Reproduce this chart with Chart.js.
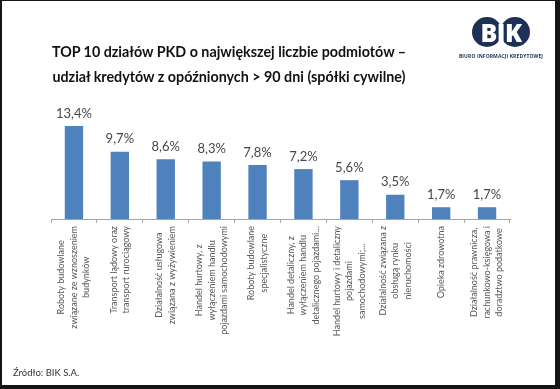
<!DOCTYPE html>
<html>
<head>
<meta charset="utf-8">
<script src="https://cdn.jsdelivr.net/npm/chart.js@4/dist/chart.umd.min.js"></script>
<style>
  body { margin: 0; background: #fff; }
  #wrap { position: relative; width: 560px; height: 389px; overflow: hidden; background: #fff; }
  #frame { position: absolute; left: 0; top: 0; width: 560px; height: 389px; box-sizing: border-box;
    border-style: solid; border-color: #151515; border-width: 1px 5px 4px 2px; pointer-events: none; }
  #title { position: absolute; left: 29px; width: 400px; top: 39px; text-align: center;
    font-family: Lato, sans-serif; font-weight: bold; font-size: 14.3px; line-height: 25px; color: #111; }
  #source { position: absolute; left: 13px; top: 367px; font-family: Lato, sans-serif; font-size: 9.5px; color: #333; }
  .dot { position: absolute; top: 17px; width: 30px; height: 30px; border-radius: 50%; background: #1d3157; }
  #bik { position: absolute; left: 472px; width: 58px; top: 17px; line-height: 30px; text-align: center;
    font-family: "Open Sans", sans-serif; font-weight: 800; font-size: 25px; color: #fff; letter-spacing: -0.5px; }
  #biuro { position: absolute; left: 453px; width: 96px; top: 53px; text-align: center;
    font-family: "Open Sans", sans-serif; font-weight: bold; font-size: 5px; color: #1d3157; white-space: nowrap; letter-spacing: 0.1px; }
  canvas { position: absolute; left: 0; top: 0; }
</style>
</head>
<body>
<div id="wrap">
  <canvas id="chart" width="560" height="389"></canvas>
  <div id="title">TOP 10 działów PKD o największej liczbie podmiotów –<br>udział kredytów z opóźnionych &gt; 90 dni (spółki cywilne)</div>
  <div class="dot" style="left:472px"></div>
  <div class="dot" style="left:500px"></div>
  <div id="bik">BIK</div>
  <div id="biuro">BIURO INFORMACJI KREDYTOWEJ</div>
  <div id="source">Źródło: BIK S.A.</div>
  <div id="frame"></div>
</div>
<script>
var categories = [
  ["Roboty budowlane", "związane ze wznoszeniem", "budynków"],
  ["Transport lądowy oraz", "transport rurociągowy"],
  ["Działalność usługowa", "związana z wyżywieniem"],
  ["Handel hurtowy, z", "wyłączeniem handlu", "pojazdami samochodowymi"],
  ["Roboty budowlane", "specjalistyczne"],
  ["Handel detaliczny, z", "wyłączeniem handlu", "detalicznego pojazdami…"],
  ["Handel hurtowy i detaliczny", "pojazdami", "samochodowymi;…"],
  ["Działalność związana z", "obsługą rynku", "nieruchomości"],
  ["Opieka zdrowotna"],
  ["Działalność prawnicza,", "rachunkowo-księgowa i", "doradztwo podatkowe"]
];
var shares = [13.4, 9.7, 8.6, 8.3, 7.8, 7.2, 5.6, 3.5, 1.7, 1.7];

var valueLabels = {
  id: 'valueLabels',
  afterDatasetsDraw: function(chart){
    var ctx = chart.ctx;
    var meta = chart.getDatasetMeta(0);
    ctx.save();
    ctx.font = '13px Lato, sans-serif';
    ctx.fillStyle = '#474747';
    ctx.textAlign = 'center';
    ctx.textBaseline = 'bottom';
    meta.data.forEach(function(bar, i){
      var txt = shares[i].toFixed(1).replace('.', ',') + '%';
      ctx.fillText(txt, bar.x, bar.y - 6);
    });
    ctx.restore();
  }
};

var categoryLabels = {
  id: 'categoryLabels',
  afterDraw: function(chart){
    var ctx = chart.ctx;
    var xs = chart.scales.x;
    var top = chart.chartArea.bottom + 7;
    var lineH = 12.5;
    ctx.save();
    ctx.font = '9px Lato, sans-serif';
    ctx.fillStyle = '#595959';
    ctx.textAlign = 'center';
    ctx.textBaseline = 'middle';
    categories.forEach(function(lines, i){
      var maxW = 0;
      lines.forEach(function(l){ maxW = Math.max(maxW, ctx.measureText(l).width); });
      var x = xs.getPixelForValue(i);
      ctx.save();
      ctx.translate(x, top + maxW / 2);
      ctx.rotate(-Math.PI / 2);
      lines.forEach(function(l, j){
        ctx.fillText(l, 0, (j - (lines.length - 1) / 2) * lineH);
      });
      ctx.restore();
    });
    ctx.restore();
  }
};

new Chart(document.getElementById('chart').getContext('2d'), {
  type: 'bar',
  data: {
    labels: categories,
    datasets: [{
      data: shares,
      backgroundColor: '#4f81bd',
      categoryPercentage: 1,
      barPercentage: 0.4
    }]
  },
  options: {
    responsive: false,
    animation: false,
    layout: { padding: { left: 51, right: 50, top: 115, bottom: 166 } },
    plugins: { legend: { display: false }, tooltip: { enabled: false }, title: { display: false } },
    scales: {
      x: {
        grid: { display: true, drawOnChartArea: false, drawTicks: true, tickLength: 4, color: '#a6a6a6' },
        border: { display: true, color: '#a6a6a6', width: 1 },
        ticks: { display: false }
      },
      y: { display: false, min: 0, max: 15 }
    }
  },
  plugins: [valueLabels, categoryLabels]
});
</script>
</body>
</html>
